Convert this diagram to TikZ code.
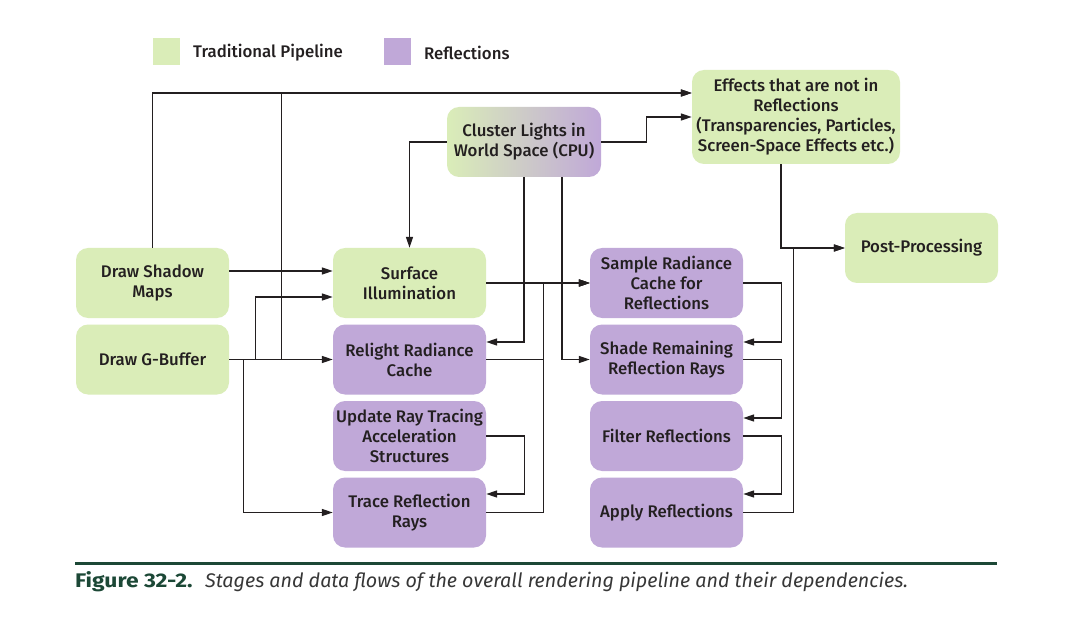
\documentclass[tikz,border=0pt]{standalone}
\usepackage{fontspec}
\setmainfont{Fira Sans}[UprightFont={* Medium}, ItalicFont={* Italic}, BoldFont={* Bold}]
\newfontfamily\capfont{Fira Sans}
\usetikzlibrary{arrows.meta}
\definecolor{tpgreen}{RGB}{218,237,184}
\definecolor{rfpurple}{RGB}{192,168,216}
\definecolor{midgray}{RGB}{204,204,198}
\definecolor{ink}{RGB}{35,31,32}
\definecolor{capgreen}{RGB}{28,72,54}
\definecolor{capgray}{RGB}{55,55,55}
\begin{document}
\begin{tikzpicture}[x=1pt,y=-1pt,
  box/.style={rounded corners=12pt, minimum width=153pt, minimum height=70pt, inner sep=1pt, align=center, text=ink, font=\fontsize{16.8}{20}\selectfont},
  tp/.style={box, fill=tpgreen},
  rf/.style={box, fill=rfpurple},
  conn/.style={draw=ink, line width=1.4pt},
  arr/.style={conn, -{Triangle[length=11pt,width=7pt]}},
  legtext/.style={anchor=west, inner sep=0pt, text=ink, font=\fontsize{16.8}{20}\selectfont},
]
\useasboundingbox (0,0) rectangle (1092,620);
\fill[white] (0,0) rectangle (1092,620);

% legend
\fill[tpgreen] (153,38) rectangle (180,65);
\node[legtext] (lgtp) at (193,53) {Traditional Pipeline};
\fill[rfpurple] (384,38) rectangle (411,65);
\node[legtext] (lgrf) at (424,53) {Reflections};

% nodes
\node[tp] (shadow) at (152.5,283) {Draw Shadow\\Maps};
\node[tp] (gbuf) at (152.5,359.5) {Draw G-Buffer};
\node[tp] (surf) at (409.5,283) {Surface\\Illumination};
\node[rf] (relight) at (409.5,359.5) {Relight Radiance\\Cache};
\node[rf] (update) at (409.5,436) {Update Ray Tracing\\Acceleration\\Structures};
\node[rf] (trace) at (409.5,512.5) {Trace Reflection\\Rays};
\node[rf] (sample) at (666.5,283) {Sample Radiance\\Cache for\\Reflections};
\node[rf] (shade) at (666.5,359.5) {Shade Remaining\\Reflection Rays};
\node[rf] (filter) at (666.5,436) {Filter Reflections};
\node[rf] (apply) at (666.5,512.5) {Apply Reflections};
\node[tp] (post) at (921.5,248) {Post-Processing};
\node[tp, minimum width=208pt, minimum height=94pt] (effects) at (796,117) {Effects that are not in\\Reflections\\(Transparencies, Particles,\\Screen-Space Effects etc.)};
\node[box, minimum width=154pt, left color=tpgreen, middle color=midgray, right color=rfpurple] (cluster) at (524,142) {Cluster Lights in\\World Space (CPU)};

% connectors
\draw[arr] (shadow.north) |- ([yshift=24pt]effects.west);
\draw[arr] ([xshift=52pt]gbuf.east) |- ([yshift=24pt]effects.west);
\draw[arr] ([yshift=12pt]shadow.east) -- ([yshift=12pt]surf.west);
\draw[arr] (gbuf.east) -- (relight.west);
\draw[arr] ([xshift=26pt]gbuf.east) |- ([yshift=-14pt]surf.west);
\draw[arr] ([xshift=14pt]gbuf.east) |- (trace.west);
\draw[arr] (cluster.west) -| (surf.north);
\draw[arr] (cluster.south) |- ([yshift=17.5pt]relight.east);
\draw[arr] ([xshift=38pt]cluster.south) |- (shade.west);
\draw[arr] (cluster.east) -- ++(45pt,0) |- (effects.west);
\draw[arr] (surf.east) -- (sample.west);
\draw[arr] (relight.east) -- ++(57pt,0) |- (sample.west);
\draw[arr] (trace.east) -- ++(57pt,0) |- (sample.west);
\draw[arr] (update.east) -- ++(38pt,0) |- ([yshift=18.5pt]trace.east);
\draw[arr] (sample.east) -- ++(38pt,0) |- ([yshift=17.5pt]shade.east);
\draw[arr] (shade.east) -- ++(38pt,0) |- ([yshift=18pt]filter.east);
\draw[arr] (filter.east) -- ++(38pt,0) |- ([yshift=18.5pt]apply.east);
\draw[arr] (apply.east) -- ++(50pt,0) |- (post.west);
\draw[arr] ([xshift=-15pt]effects.south) |- (post.west);

% caption
\fill[capgreen] (75,561.5) rectangle (997,564.5);
\node[anchor=base west, inner sep=0pt, font=\capfont\fontsize{19.7}{24}\selectfont] (caption) at (75,587)
  {\makebox[130pt][l]{\scalebox{1.16}[1]{\textcolor{capgreen}{\bfseries Figure 32-2.}}}\textcolor{capgray}{\itshape Stages and data flows of the overall rendering pipeline and their dependencies.}};
\end{tikzpicture}
\end{document}
